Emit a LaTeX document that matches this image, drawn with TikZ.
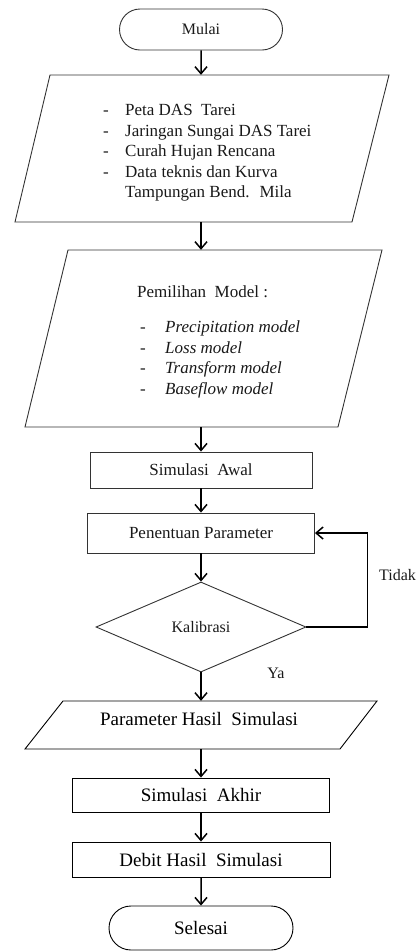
\documentclass[tikz,border=0pt]{standalone}
\usepackage{fontspec}
\setmainfont{Liberation Serif}
\usetikzlibrary{shapes.geometric,shapes.misc,arrows.meta}
\begin{document}
\begin{tikzpicture}[x=1pt,y=-1pt,
  shp/.style={draw=black!80, line width=0.9pt},
  shpb/.style={draw=black, line width=0.9pt},
  term/.style={rounded rectangle, inner sep=0pt},
  procbox/.style={rectangle, inner sep=0pt},
  frame/.style={rectangle, inner sep=0pt, minimum width=200pt},
  txt/.style={inner sep=0pt, text=black!90},
  fA/.style={font=\fontsize{16}{19}\selectfont},
  fB/.style={font=\fontsize{17}{20.5}\selectfont},
  fC/.style={font=\fontsize{19}{22}\selectfont},
  arr/.style={line width=1.5pt, -{Straight Barb[length=7pt,width=12pt]}},
]
\useasboundingbox (0,0) rectangle (419,951);

% nodes
\node[term, shp, fA, text=black!90, minimum width=163pt, minimum height=41pt] (start) at (201,29.5) {Mulai};

\node[frame, minimum height=147pt] (in1) at (201,148.5) {};
\draw[shp] (50,75) -- (389,75) -- (352,222) -- (15,222) -- cycle;
\node[txt, fB, anchor=base west] (in1txt) at (103,115.5) {%
  \begin{tabular}[t]{@{}p{22pt}@{}l@{}}
  -  & Peta DAS~ Tarei\\
  -  & Jaringan Sungai DAS Tarei\\
  -  & Curah Hujan Rencana\\
  -  & Data teknis dan Kurva\\
     & Tampungan Bend.~ Mila
  \end{tabular}};

\node[frame, minimum height=177pt] (in2) at (201,338.5) {};
\draw[shp] (68,250) -- (382,250) -- (338,427) -- (25,427) -- cycle;
\node[txt, fB, anchor=base west] (in2head) at (137,297.5) {Pemilihan~ Model :};
\node[txt, fB, anchor=base west] (in2txt) at (140,332.5) {%
  \begin{tabular}[t]{@{}p{25pt}@{}l@{}}
  - & \textit{Precipitation model}\\
  - & \textit{Loss model}\\
  - & \textit{Transform model}\\
  - & \textit{Baseflow model}
  \end{tabular}};

\node[procbox, shp, fB, text=black!90, minimum width=222pt, minimum height=36pt] (sim1) at (201,470) {Simulasi~ Awal};
\node[procbox, shp, fB, text=black!90, minimum width=227pt, minimum height=40pt] (par) at (201,533) {Penentuan Parameter};
\node[diamond, shp, fA, text=black!90, inner sep=0pt, minimum width=210pt, minimum height=90pt] (kal) at (201,627) {Kalibrasi};

\node[frame, minimum height=48pt] (in3) at (201,725) {};
\draw[shpb] (63,701) -- (377,701) -- (340,749) -- (25,749) -- cycle;
\node[txt, fC, text=black] (in3txt) at (199,719) {Parameter Hasil~ Simulasi};

\node[procbox, shpb, fC, minimum width=257pt, minimum height=34pt] (sim2) at (201,795) {Simulasi~ Akhir};
\node[procbox, shpb, fC, minimum width=258pt, minimum height=35pt] (deb) at (201,859.5) {Debit Hasil~ Simulasi};
\node[term, shpb, fC, minimum width=184pt, minimum height=44pt] (stop) at (201,928) {Selesai};

\node[txt, fA, anchor=west] (tidak) at (379,575) {Tidak};
\node[txt, fA] (ya) at (276,673) {Ya};

% connectors
\draw[arr] (start) -- (in1);
\draw[arr] (in1) -- (in2);
\draw[arr] (in2) -- (sim1);
\draw[arr] (sim1) -- (par);
\draw[arr] (par) -- (kal);
\draw[arr] (kal) -- (in3);
\draw[arr] (in3) -- (sim2);
\draw[arr] (sim2) -- (deb);
\draw[arr] (deb) -- (stop);
\draw[arr] (kal.east) -- ++(61,0) |- (par.east);
\end{tikzpicture}
\end{document}
